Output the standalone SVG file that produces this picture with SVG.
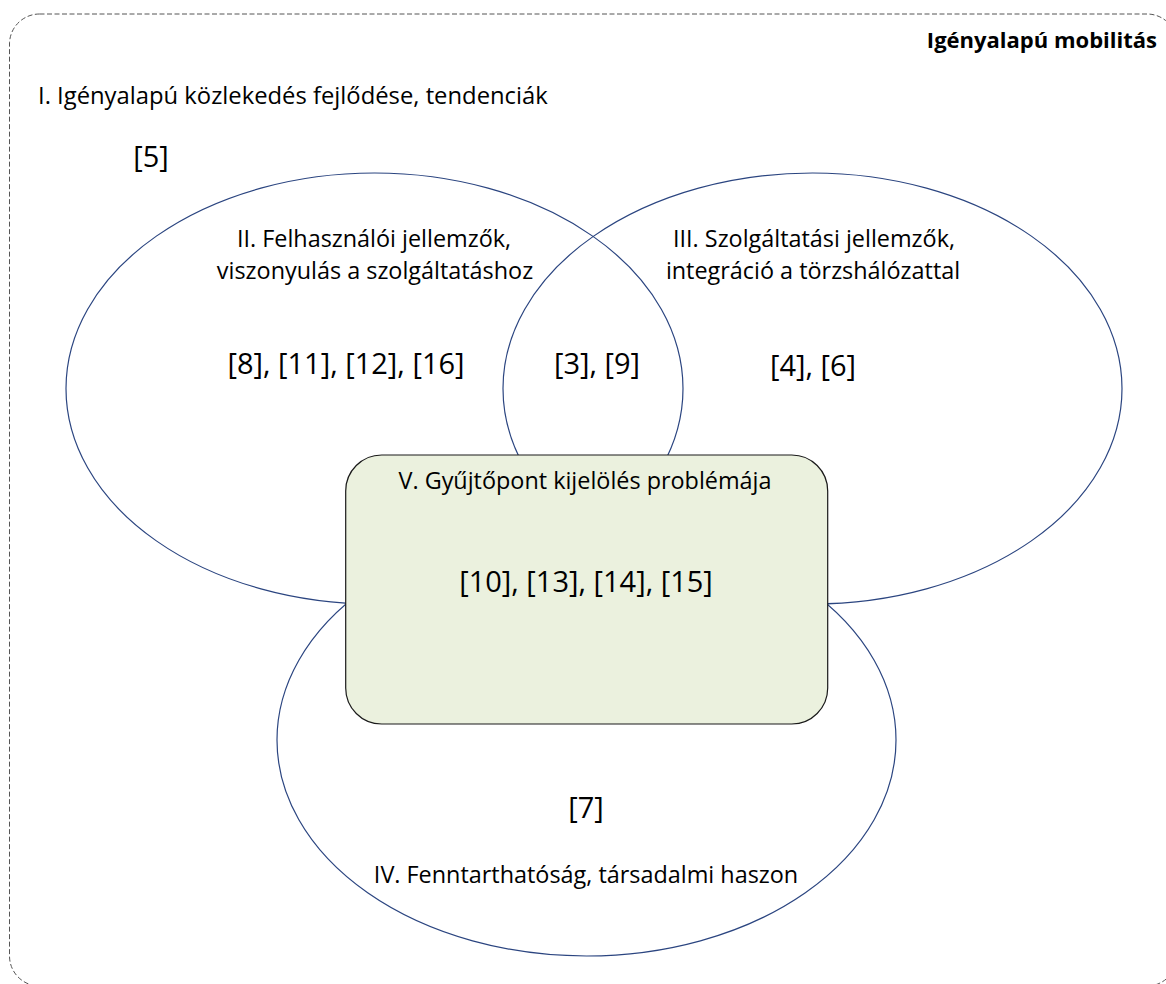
<svg xmlns="http://www.w3.org/2000/svg" width="1166" height="984" viewBox="0 0 1166 984">
<style>
.t{font-family:"Open Sans","Noto Sans","DejaVu Sans",sans-serif;fill:#000}
.lab{font-size:23.4px}
.ref{font-size:29px}
.c{text-anchor:middle}
.ttl{font-size:22px;font-weight:bold;text-anchor:end}
.ell{fill:none;stroke:#2B4580;stroke-width:1.2}
.box{fill:#EBF1DE;stroke:#1a1a1a;stroke-width:1.2}
.outer{fill:none;stroke:#555;stroke-width:1;stroke-dasharray:5 2.5}
</style>
<rect width="1166" height="984" fill="#fff"/>
<g id="frame">
<rect class="outer" x="9.5" y="14" width="1167.5" height="972" rx="30" ry="30"/>
<text class="t ttl" x="1157" y="48">Igényalapú mobilitás</text>
<text class="t lab" x="38" y="104" style="font-size:23.8px">I. Igényalapú közlekedés fejlődése, tendenciák</text>
<text class="t ref c" x="151" y="167">[5]</text>
</g>
<g id="node-II">
<ellipse class="ell" cx="374.5" cy="388.5" rx="308.5" ry="215.5"/>
<text class="t lab c" x="374" y="247">II. Felhasználói jellemzők,</text>
<text class="t lab c" x="375" y="279">viszonyulás a szolgáltatáshoz</text>
<text class="t ref c" x="346" y="374">[8], [11], [12], [16]</text>
</g>
<g id="node-III">
<ellipse class="ell" cx="812.5" cy="388.5" rx="309.5" ry="215.5"/>
<text class="t lab c" x="814" y="247">III. Szolgáltatási jellemzők,</text>
<text class="t lab c" x="813" y="279">integráció a törzshálózattal</text>
<text class="t ref c" x="813" y="376">[4], [6]</text>
</g>
<g id="node-II-III">
<text class="t ref c" x="597" y="374">[3], [9]</text>
</g>
<g id="node-IV">
<ellipse class="ell" cx="586.5" cy="740" rx="309.5" ry="216"/>
<text class="t ref c" x="586" y="818">[7]</text>
<text class="t lab c" x="586" y="883">IV. Fenntarthatóság, társadalmi haszon</text>
</g>
<g id="node-V">
<rect class="box" x="345.7" y="455" width="482" height="269" rx="36" ry="36"/>
<text class="t lab c" x="585" y="489">V. Gyűjtőpont kijelölés problémája</text>
<text class="t ref c" x="586" y="592">[10], [13], [14], [15]</text>
</g>
<g id="connectors"></g>
</svg>
